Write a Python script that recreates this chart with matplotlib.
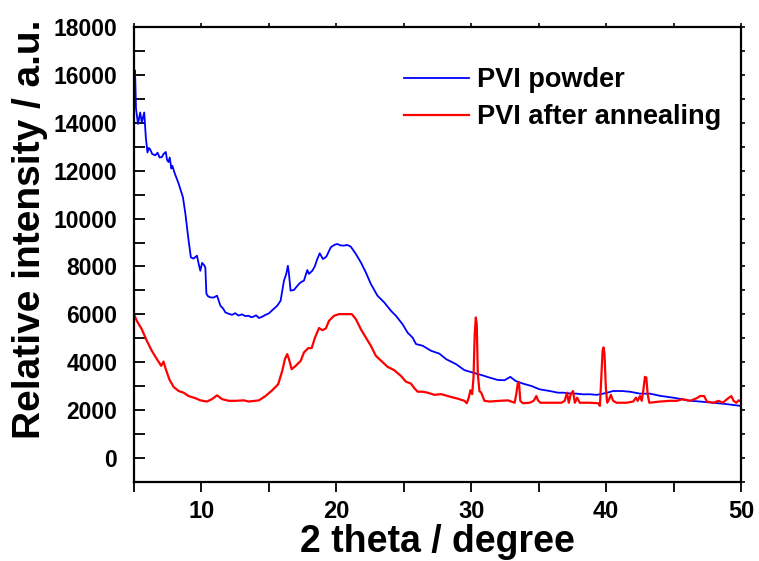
import numpy as np
import matplotlib
matplotlib.use('Agg')
import matplotlib.pyplot as plt
from matplotlib.ticker import MultipleLocator

plt.rcParams['font.family'] = ['Liberation Sans', 'DejaVu Sans']
plt.rcParams['font.weight'] = 'bold'

# XRD scan of the as-received powder (2 theta in degrees, intensity in counts)
powder_2theta = [5.0, 5.05, 5.1, 5.15, 5.3, 5.46, 5.58, 5.76, 5.88, 6.0, 6.1, 6.2, 6.35,
                 6.58, 6.75, 6.9, 7.07, 7.2, 7.36, 7.45, 7.56, 7.65, 7.77, 7.85, 7.99,
                 8.31, 8.63, 8.81, 9.05, 9.22, 9.42, 9.67, 9.8, 9.92, 10.05, 10.17,
                 10.29, 10.37, 10.5, 10.67, 10.9, 11.16, 11.41, 11.6, 11.78, 12.0,
                 12.27, 12.5, 12.75, 13.0, 13.25, 13.51, 13.7, 13.88, 14.05, 14.26,
                 14.5, 14.75, 15.0, 15.3, 15.62, 15.87, 16.12, 16.29, 16.41, 16.49,
                 16.61, 16.86, 17.05, 17.23, 17.4, 17.6, 17.85, 17.97, 18.22, 18.4,
                 18.59, 18.77, 19.01, 19.26, 19.59, 19.85, 20.08, 20.3, 20.58, 20.8,
                 21.07, 21.45, 21.82, 22.19, 22.56, 23.05, 23.55, 24.05, 24.42,
                 24.91, 25.28, 25.65, 25.91, 26.4, 27.02, 27.64, 28.14, 28.88, 29.5,
                 30.12, 30.74, 31.36, 31.97, 32.47, 32.9, 33.29, 33.83, 34.46, 35.07,
                 35.82, 36.43, 36.81, 37.3, 37.8, 38.3, 38.79, 39.3, 39.78, 40.15,
                 40.52, 41.15, 41.77, 42.51, 43.25, 43.99, 44.5, 44.99, 45.5, 45.98,
                 46.5, 46.97, 47.5, 47.96, 48.5, 48.96, 49.5, 49.94]
powder_counts = [15300, 16200, 15800, 14600, 13950, 14430, 14020, 14430, 13390, 12760,
                 12950, 12890, 12700, 12640, 12750, 12550, 12570, 12700, 12780, 12450,
                 12360, 12550, 12090, 12200, 11940, 11460, 10890, 10210, 9080, 8380,
                 8330, 8450, 8100, 7820, 8150, 8080, 7960, 6860, 6750, 6710, 6700,
                 6780, 6360, 6250, 6080, 6030, 5980, 6050, 5950, 6000, 5930, 5940,
                 5880, 5910, 5960, 5850, 5900, 5980, 6040, 6200, 6360, 6570, 7410,
                 7690, 8030, 7690, 6990, 7020, 7150, 7270, 7350, 7410, 7850, 7690,
                 7820, 8000, 8310, 8550, 8310, 8410, 8800, 8900, 8940, 8880, 8870,
                 8900, 8830, 8520, 8170, 7750, 7270, 6780, 6500, 6150, 5940, 5590,
                 5240, 5030, 4760, 4690, 4480, 4360, 4130, 3920, 3670, 3570, 3470,
                 3360, 3260, 3250, 3390, 3220, 3110, 3010, 2870, 2800, 2730, 2730,
                 2700, 2690, 2660, 2665, 2640, 2690, 2740, 2800, 2800, 2770, 2690,
                 2690, 2600, 2560, 2520, 2470, 2410, 2380, 2360, 2330, 2310, 2280,
                 2250, 2210, 2180]

# XRD scan of the same material after annealing
annealed_2theta = [5.0, 5.21, 5.58, 5.95, 6.32, 6.7, 7.02, 7.19, 7.36, 7.62, 7.94, 8.31,
                   8.68, 9.05, 9.55, 9.92, 10.41, 10.78, 11.16, 11.53, 12.03, 12.52,
                   13.14, 13.51, 14.26, 14.75, 15.25, 15.69, 15.99, 16.19, 16.36,
                   16.49, 16.69, 16.99, 17.36, 17.6, 17.92, 18.17, 18.42, 18.72,
                   18.96, 19.22, 19.46, 19.83, 20.2, 20.7, 21.15, 21.45, 21.82, 22.19,
                   22.56, 22.93, 23.38, 23.8, 24.29, 24.79, 25.16, 25.53, 25.78,
                   26.03, 26.4, 26.77, 27.27, 27.77, 28.38, 29.0, 29.5, 29.67, 29.82,
                   29.94, 30.07, 30.17, 30.26, 30.34, 30.41, 30.49, 30.61, 30.74,
                   30.98, 31.36, 32.1, 32.72, 33.22, 33.34, 33.46, 33.54, 33.64,
                   33.83, 34.33, 34.63, 34.83, 34.95, 35.13, 35.82, 36.69, 36.93,
                   37.1, 37.23, 37.38, 37.55, 37.68, 37.85, 38.05, 38.79, 39.41,
                   39.54, 39.63, 39.74, 39.81, 39.88, 39.98, 40.08, 40.23, 40.35,
                   40.52, 40.77, 41.52, 42.01, 42.21, 42.34, 42.51, 42.64, 42.75,
                   42.88, 42.98, 43.08, 43.2, 43.99, 44.74, 45.24, 45.68, 46.23,
                   46.72, 46.97, 47.27, 47.47, 47.96, 48.33, 48.66, 48.96, 49.28,
                   49.45, 49.65, 49.82, 50.0]
annealed_counts = [6010, 5730, 5380, 4900, 4480, 4130, 3850, 4030, 3710, 3290, 2970, 2800,
                   2730, 2590, 2500, 2410, 2360, 2460, 2620, 2460, 2390, 2390, 2410,
                   2360, 2410, 2590, 2830, 3080, 3640, 4130, 4340, 4130, 3710, 3850,
                   4060, 4410, 4590, 4590, 5030, 5430, 5340, 5410, 5730, 5940, 6010,
                   6010, 6010, 5800, 5380, 5030, 4690, 4270, 4030, 3810, 3670, 3430,
                   3190, 3110, 2920, 2770, 2770, 2730, 2640, 2670, 2570, 2480, 2390,
                   2290, 2520, 2830, 2670, 3360, 5180, 5870, 5590, 3500, 2800, 2730,
                   2390, 2360, 2390, 2410, 2310, 2670, 3150, 3150, 2390, 2290, 2310,
                   2390, 2590, 2410, 2310, 2310, 2310, 2390, 2730, 2310, 2670, 2800,
                   2310, 2520, 2310, 2310, 2290, 2180, 3220, 4480, 4620, 4340, 2940,
                   2310, 2460, 2640, 2390, 2310, 2310, 2360, 2520, 2390, 2590, 2390,
                   2800, 3390, 3360, 2670, 2310, 2360, 2390, 2390, 2460, 2390, 2500,
                   2590, 2590, 2360, 2310, 2390, 2310, 2460, 2590, 2390, 2310, 2410,
                   2360]

series_labels = ['PVI powder', 'PVI after annealing']
series_colors = ['#0000ff', '#ff0000']

fig = plt.figure(figsize=(7.59, 5.61), dpi=100)
ax = fig.add_axes([0.1765, 0.1408, 0.7998, 0.8111])

ax.plot(powder_2theta, powder_counts, color=series_colors[0], lw=1.3,
        label=series_labels[0])
ax.plot(annealed_2theta, annealed_counts, color=series_colors[1], lw=1.6,
        label=series_labels[1])

ax.set_xlim(5, 50)
ax.set_ylim(-1000, 18000)
ax.xaxis.set_major_locator(MultipleLocator(10))
ax.xaxis.set_minor_locator(MultipleLocator(5))
ax.yaxis.set_major_locator(MultipleLocator(2000))
ax.yaxis.set_minor_locator(MultipleLocator(1000))

for side in ax.spines.values():
    side.set_linewidth(1.6)

# bottom/left carry the labelled ticks, top/right only short stubs
ax.tick_params(axis='x', which='both', direction='out', length=7, width=1.3,
               labelsize=17, pad=6)
ax.tick_params(axis='y', which='both', direction='in', length=8, width=1.3,
               labelsize=16.5, pad=12)
sec_x = ax.secondary_xaxis('top')
sec_x.xaxis.set_major_locator(MultipleLocator(10))
sec_x.xaxis.set_minor_locator(MultipleLocator(5))
sec_x.tick_params(which='both', direction='out', length=3, width=1.2, labeltop=False)
sec_x.spines['top'].set_visible(False)
sec_y = ax.secondary_yaxis('right')
sec_y.yaxis.set_major_locator(MultipleLocator(2000))
sec_y.yaxis.set_minor_locator(MultipleLocator(1000))
sec_y.tick_params(which='both', direction='out', length=3, width=1.2, labelright=False)
sec_y.spines['right'].set_visible(False)

for lbl in ax.get_xticklabels() + ax.get_yticklabels():
    lbl.set_fontweight('bold')

ax.set_xlabel('2 theta / degree', fontsize=27, fontweight='bold', labelpad=1)
ax.set_ylabel('Relative intensity / a.u.', fontsize=28, fontweight='bold')
ax.yaxis.set_label_coords(-0.142, 0.556)

ax.legend(loc='upper left', bbox_to_anchor=(0.405, 0.965), frameon=False,
          handlelength=2.4, handletextpad=0.3, labelspacing=0.4,
          prop={'weight': 'bold', 'size': 19.5})

fig.savefig('out.png', dpi=100)
